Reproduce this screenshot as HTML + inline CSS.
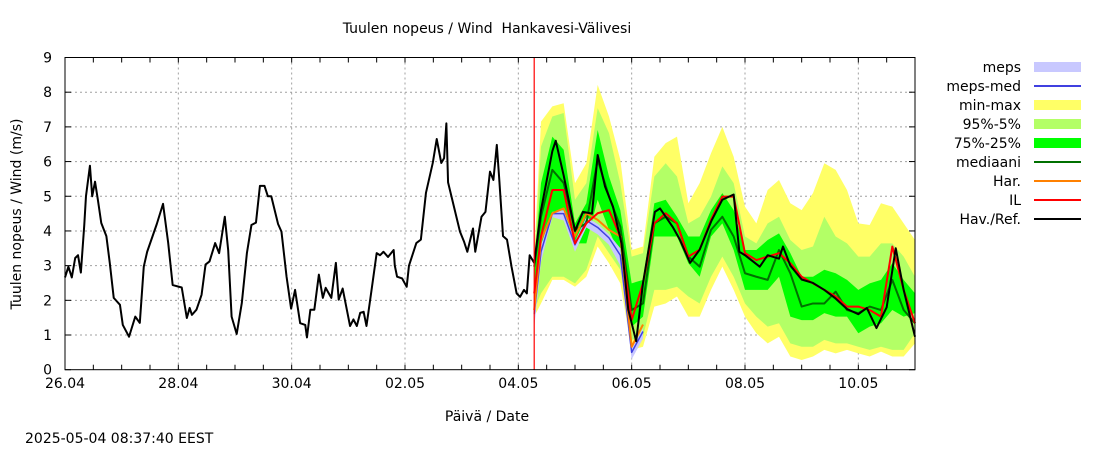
<!DOCTYPE html>
<html><head><meta charset="utf-8"><style>
body{margin:0;background:#fff;}
svg text{font-family:"DejaVu Sans","Liberation Sans",sans-serif;font-size:14px;fill:#000;white-space:pre;}
</style></head><body>
<svg id="c" width="1100" height="450" xmlns="http://www.w3.org/2000/svg"></svg>
<script>
// observed / reference (black) series: days since 26.04 00:00 and values (m/s)
const obsDays=[0,0.06,0.12,0.18,0.23,0.28,0.34,0.37,0.44,0.48,0.53,0.58,0.64,0.73,0.79,0.86,0.97,1.02,1.13,1.24,1.32,1.39,1.45,1.62,1.73,1.82,1.9,2.06,2.15,2.2,2.24,2.32,2.41,2.48,2.55,2.65,2.72,2.82,2.88,2.94,3.03,3.12,3.21,3.29,3.37,3.44,3.52,3.58,3.64,3.76,3.82,3.91,3.99,4.06,4.15,4.24,4.27,4.33,4.4,4.48,4.55,4.6,4.7,4.78,4.83,4.9,5.03,5.09,5.15,5.21,5.27,5.32,5.41,5.5,5.56,5.62,5.7,5.8,5.82,5.86,5.95,6.03,6.07,6.2,6.28,6.37,6.49,6.56,6.64,6.69,6.73,6.76,6.97,7.04,7.1,7.2,7.24,7.35,7.42,7.5,7.56,7.62,7.66,7.73,7.8,7.88,7.97,8.03,8.1,8.15,8.2,8.28,8.4,8.6,8.66,8.8,9.0,9.14,9.3,9.4,9.53,9.67,9.82,9.94,10.08,10.2,10.41,10.5,10.73,10.85,11.03,11.2,11.41,11.6,11.8,11.9,12.0,12.26,12.4,12.6,12.67,12.8,13.0,13.2,13.4,13.6,13.8,14.0,14.15,14.32,14.5,14.66,14.8,15.0];
const obsVals=[2.66,2.97,2.66,3.22,3.3,2.8,4.17,5.0,5.88,5.0,5.42,4.9,4.23,3.85,3.08,2.07,1.87,1.29,0.95,1.53,1.35,2.97,3.4,4.2,4.78,3.67,2.44,2.37,1.49,1.78,1.58,1.73,2.16,3.03,3.12,3.65,3.36,4.41,3.44,1.53,1.03,1.92,3.36,4.17,4.24,5.3,5.3,5.0,5.0,4.2,3.98,2.68,1.76,2.3,1.34,1.29,0.93,1.73,1.73,2.74,2.07,2.36,2.07,3.08,2.02,2.34,1.26,1.45,1.26,1.64,1.67,1.26,2.3,3.36,3.3,3.4,3.25,3.45,3.0,2.68,2.63,2.39,3.0,3.65,3.75,5.1,5.96,6.65,5.96,6.1,7.1,5.4,3.98,3.7,3.4,4.07,3.4,4.41,4.55,5.71,5.47,6.48,5.57,3.85,3.75,2.97,2.2,2.1,2.3,2.2,3.3,3.08,4.6,6.3,6.6,5.6,4.0,4.55,4.5,6.19,5.28,4.7,3.65,1.73,0.82,2.5,4.55,4.65,4.1,3.75,3.08,3.46,4.3,4.9,5.05,3.4,3.3,2.97,3.3,3.2,3.55,3.0,2.6,2.5,2.3,2.05,1.75,1.6,1.78,1.2,1.8,3.5,2.3,0.95];
// forecast ensemble
const fcDays=[8.28,8.4,8.6,8.8,9.0,9.2,9.4,9.6,9.8,10.0,10.2,10.4,10.6,10.8,11.0,11.2,11.4,11.6,11.8,12.0,12.2,12.4,12.6,12.8,13.0,13.2,13.4,13.6,13.8,14.0,14.2,14.4,14.6,14.8,15.0];
const maxVals=[3.26,7.15,7.59,7.68,5.38,5.95,8.21,7.3,6.05,3.45,3.55,6.14,6.53,6.72,4.8,5.38,6.24,7.0,6.14,4.7,4.22,5.18,5.47,4.8,4.6,5.09,5.95,5.76,5.18,4.22,4.17,4.8,4.7,4.22,3.74];
const minVals=[1.53,1.91,2.59,2.59,2.39,2.68,3.55,3.07,2.49,0.57,0.66,1.82,1.91,2.11,1.53,1.53,2.3,2.97,2.3,1.53,1.05,0.76,0.95,0.38,0.28,0.38,0.57,0.47,0.57,0.47,0.38,0.52,0.38,0.38,0.76];
const p95Vals=[3.07,6.43,7.3,7.4,4.9,5.38,7.54,6.82,5.38,3.26,3.36,5.57,5.95,5.57,4.22,4.41,4.99,5.86,5.38,3.84,3.64,4.22,4.41,3.74,3.45,3.55,4.41,3.84,3.64,3.26,3.26,3.64,3.64,3.26,2.68];
const p5Vals=[1.72,2.2,2.68,2.68,2.49,2.88,3.84,3.36,2.88,0.86,0.95,2.3,2.3,2.39,2.11,1.91,2.68,3.26,2.68,1.91,1.53,1.24,1.34,0.76,0.66,0.66,0.86,0.76,0.76,0.66,0.57,0.66,0.57,0.57,1.05];
const p75Vals=[2.97,5.38,6.72,6.34,4.22,4.8,6.91,5.57,4.6,2.49,2.59,4.8,4.9,4.41,3.84,3.84,4.6,5.09,4.6,3.45,3.45,3.74,3.93,3.36,2.68,2.68,2.88,2.78,2.59,2.3,2.49,2.59,3.07,2.59,2.2];
const p25Vals=[1.91,3.45,4.51,4.51,3.64,3.64,4.9,4.03,3.26,1.24,1.53,3.84,3.84,3.84,3.07,2.68,3.84,4.22,3.45,2.3,2.3,2.3,2.68,1.53,1.43,1.43,1.63,1.53,1.53,1.05,1.24,1.34,1.72,1.53,1.63];
const medVals=[2.97,4.41,5.76,5.38,4.03,4.22,6.05,4.99,4.12,1.72,1.91,4.22,4.41,4.22,3.26,2.97,4.03,4.41,3.84,2.78,2.68,2.59,3.45,2.78,1.82,1.91,1.91,2.25,1.72,1.63,1.82,1.72,2.59,1.72,1.34];
const ilVals=[2.2,3.84,5.18,5.18,3.64,4.22,4.51,4.6,3.84,1.43,2.49,4.22,4.51,4.22,3.26,3.46,4.32,4.99,4.99,3.36,3.16,3.26,3.36,3.07,2.68,2.49,2.3,2.11,1.82,1.82,1.72,1.53,3.55,2.3,1.34];
const harVals=[1.72,3.74,4.51,4.65,3.84,4.51,4.32,4.03,3.84,0.66,1.3];
const mepsHi=[1.9,3.6,4.55,4.6,3.7,4.4,4.2,3.9,3.5,0.6,1.2];
const mepsLo=[1.2,3.1,4.4,4.3,3.4,4.1,3.9,3.6,3.0,0.3,0.9];
const mepsMed=[1.6,3.4,4.5,4.5,3.6,4.3,4.1,3.8,3.3,0.5,1.1];
const xTickDays=[0,2,4,6,8,10,12,14];
const xTickLabels=["26.04","28.04","30.04","02.05","04.05","06.05","08.05","10.05"];
const yTicks=[0,1,2,3,4,5,6,7,8,9];
const nowDay=8.28;

const L=65,R=915,T=57.5,B=369.7,D0=0,D1=15,V0=0,V1=9;
const xs=d=>L+(d-D0)/(D1-D0)*(R-L);
const ys=v=>B-(v-V0)/(V1-V0)*(B-T);
const svg=document.getElementById('c');
const NS='http://www.w3.org/2000/svg';
function mk(tag,attrs,parent){const e=document.createElementNS(NS,tag);for(const k in attrs)e.setAttribute(k,attrs[k]);(parent||svg).appendChild(e);return e;}

yTicks.forEach((v,i)=>{
  if(v>0&&v<9){const g=mk('line',{x1:L,x2:R,y1:ys(v),y2:ys(v),stroke:'#a0a0a0','stroke-dasharray':'2,3'});
  
  }
  const t=mk('text',{x:52,y:ys(v)+5,'text-anchor':'end'});t.textContent=v;
  
  
  mk('line',{x1:L,x2:L+6,y1:ys(v),y2:ys(v),stroke:'#000'});
  mk('line',{x1:R-6,x2:R,y1:ys(v),y2:ys(v),stroke:'#000'});
});
xTickDays.forEach((d,i)=>{
  if(d>0){const g=mk('line',{x1:xs(d),x2:xs(d),y1:T,y2:B,stroke:'#a0a0a0','stroke-dasharray':'2,3'});
  
  }
  const t=mk('text',{x:xs(d),y:388,'text-anchor':'middle'});t.textContent=xTickLabels[i];
  
  
});
for(let d=0.5;d<15;d+=0.5){mk('line',{x1:xs(d),x2:xs(d),y1:B,y2:B-5,stroke:'#000'});mk('line',{x1:xs(d),x2:xs(d),y1:T,y2:T+5,stroke:'#000'});}

function band(days,lo,hi,fill,name){
  let p='M'+days.map((d,i)=>xs(d)+','+ys(hi[i])).join('L');
  for(let i=days.length-1;i>=0;i--)p+='L'+xs(days[i])+','+ys(lo[i]);
  const e=mk('path',{d:p+'Z',fill:fill,stroke:'none'});
  
  
}
function line(days,vals,col,w,name){
  const n=Math.min(days.length,vals.length);
  let p='';for(let i=0;i<n;i++)p+=(i?'L':'M')+xs(days[i])+','+ys(vals[i]);
  const e=mk('path',{d:p,fill:'none',stroke:col,'stroke-width':w,'stroke-linejoin':'round'});
  
  
}
band(fcDays,minVals,maxVals,'#ffff66','minmax-band');
band(fcDays,p5Vals,p95Vals,'#b3ff66','p95-p5-band');
band(fcDays,p25Vals,p75Vals,'#00ff00','p75-p25-band');
const md=fcDays.slice(0,mepsHi.length);
band(md,mepsLo,mepsHi,'#c8c8ff','meps-band');
line(md,mepsMed,'#4040e0',1.5,'meps-med-line');
line(fcDays,medVals,'#007000',2,'median-line');
line(fcDays,harVals,'#ff8000',2,'har-line');
line(fcDays,ilVals,'#ff0000',2,'il-line');
line(obsDays,obsVals,'#000',2,'observed-line');
const nl=mk('line',{x1:xs(nowDay),x2:xs(nowDay),y1:T,y2:B,stroke:'#ff0000','stroke-width':1.2});


const fr=mk('rect',{x:L,y:T,width:R-L,height:B-T,fill:'none',stroke:'#000','stroke-width':1});



const legNames=['meps','meps-med','min-max','95%-5%','75%-25%','mediaani','Har.','IL','Hav./Ref.'];
const legCols=['#c8c8ff','#4040e0','#ffff66','#b3ff66','#00ff00','#007000','#ff8000','#ff0000','#000000'];
const legBox=[true,false,true,true,true,false,false,false,false];
legNames.forEach((n,i)=>{
  const y=67+i*19;
  const g=mk('g',{});
  
  
  const t=mk('text',{x:1021,y:y+5,'text-anchor':'end'},g);t.textContent=n;
  if(legBox[i])mk('rect',{x:1034,y:y-5,width:47,height:10,fill:legCols[i]},g);
  else mk('line',{x1:1034,x2:1081,y1:y,y2:y,stroke:legCols[i],'stroke-width':2},g);
});
</script>
<svg width="1100" height="450" style="position:absolute;left:0;top:0;pointer-events:none" xmlns="http://www.w3.org/2000/svg">
<text x="487" y="33" text-anchor="middle">Tuulen nopeus / Wind  Hankavesi-Välivesi</text>
<text x="487" y="421" text-anchor="middle">Päivä / Date</text>
<text x="21" y="214" text-anchor="middle" transform="rotate(-90 21 214)">Tuulen nopeus / Wind (m/s)</text>
<text x="25" y="443">2025-05-04 08:37:40 EEST</text>
</svg>
</body></html>
